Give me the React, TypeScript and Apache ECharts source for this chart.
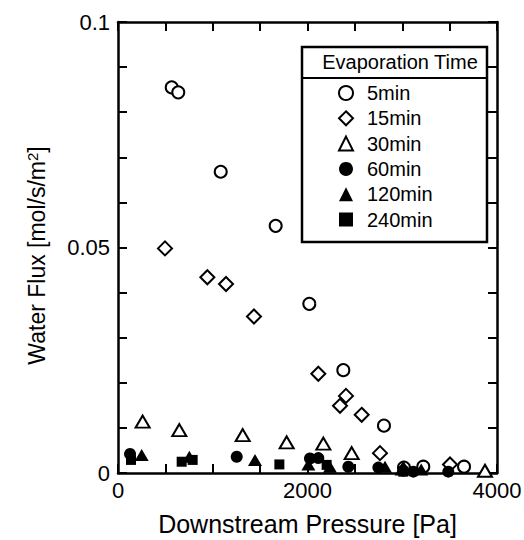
import React, { useEffect, useRef } from 'react';
import * as echarts from 'echarts';

const seriesNames = ['5min', '15min', '30min', '60min', '120min', '240min'];

const t5min = [[567, 0.0855], [636, 0.0844], [1084, 0.0668], [1664, 0.0548], [2019, 0.0375], [2378, 0.0228], [2807, 0.0105], [3018, 0.0012], [3222, 0.0014], [3652, 0.0014]];
const t15min = [[496, 0.0498], [943, 0.0434], [1140, 0.0419], [1435, 0.0347], [2114, 0.022], [2406, 0.0171], [2343, 0.0149], [2572, 0.0129], [2765, 0.0044], [3504, 0.0019]];
const t30min = [[260, 0.0114], [647, 0.0095], [1316, 0.0084], [1780, 0.0068], [2167, 0.0065], [2466, 0.0044], [3011, 0.001], [3873, 0.0005]];
const t60min = [[127, 0.0042], [1253, 0.0036], [2026, 0.0032], [2114, 0.0033], [2431, 0.0014], [2748, 0.0012], [3011, 0.0005], [3117, 0.0003], [3486, 0.0003]];
const t120min = [[250, 0.004], [753, 0.0036], [1446, 0.0029], [2009, 0.0019], [2237, 0.0014], [2818, 0.0014], [3200, 0.0008]];
const t240min = [[137, 0.0029], [672, 0.0025], [788, 0.0029], [1703, 0.0019], [2202, 0.0018], [3011, 0.0003]];

const seriesData = [t5min, t15min, t30min, t60min, t120min, t240min];

const xTickLabels = [0, 2000, 4000];
const yTickLabels = [0, 0.05, 0.1];

const FONT = '"Liberation Sans", Arial, Helvetica, sans-serif';

const markerStyles = [
  { symbol: 'circle', size: 12, fill: '#fff' },
  { symbol: 'diamond', size: 14, fill: '#fff' },
  { symbol: 'triangle', size: [14, 12], fill: '#fff' },
  { symbol: 'circle', size: 12, fill: '#000' },
  { symbol: 'triangle', size: [14, 12], fill: '#000' },
  { symbol: 'rect', size: 10, fill: '#000' },
];

const isTick = (list: number[], v: number) => list.some((t) => Math.abs(t - v) < 1e-9);

export default function App() {
  const ref = useRef<HTMLDivElement>(null);
  useEffect(() => {
    if (!ref.current) return;
    const chart = echarts.init(ref.current, undefined, { renderer: 'svg' });
    const axisLine = { show: true, onZero: false, lineStyle: { color: '#000', width: 2.5 } };
    const axisTick = { show: true, inside: true, length: 9, lineStyle: { color: '#000', width: 2 } };
    chart.setOption({
      animation: false,
      backgroundColor: '#fff',
      grid: { left: 118, right: 27, top: 22, bottom: 67, containLabel: false, outerBoundsMode: 'none' },
      xAxis: [
        {
          type: 'value', min: 0, max: 4000, interval: 500,
          axisLine, axisTick, splitLine: { show: false },
          axisLabel: {
            margin: 6, color: '#000', fontSize: 22, fontFamily: FONT,
            formatter: (v: number) => (isTick(xTickLabels, v) ? String(v) : ''),
          },
          name: 'Downstream Pressure [Pa]', nameLocation: 'middle', nameGap: 38,
          nameTextStyle: { color: '#000', fontSize: 25, fontFamily: FONT },
        },
        {
          type: 'value', min: 0, max: 4000, interval: 500, position: 'top',
          axisLine, axisTick, splitLine: { show: false }, axisLabel: { show: false },
        },
      ],
      yAxis: [
        {
          type: 'value', min: 0, max: 0.1, interval: 0.01,
          axisLine, axisTick, splitLine: { show: false },
          axisLabel: {
            margin: 8, color: '#000', fontSize: 22, fontFamily: FONT,
            formatter: (v: number) => (isTick(yTickLabels, v) ? String(Number(v.toFixed(4))) : ''),
          },
          name: 'Water Flux [mol/s/m{sup|2}]', nameLocation: 'middle', nameGap: 70, nameRotate: 90,
          nameTextStyle: {
            color: '#000', fontSize: 23, fontFamily: FONT, padding: [0, 16, 0, 0],
            rich: { sup: { fontSize: 15, fontFamily: FONT, color: '#000', verticalAlign: 'top', padding: [0, 0, 8, 0] } },
          },
        },
        {
          type: 'value', min: 0, max: 0.1, interval: 0.01, position: 'right',
          axisLine, axisTick, splitLine: { show: false }, axisLabel: { show: false },
        },
      ],
      legend: {
        orient: 'vertical', left: 338, top: 83, padding: 0,
        itemWidth: 14, itemHeight: 14, itemGap: 5.3,
        data: seriesNames,
        textStyle: { color: '#000', fontSize: 20, fontFamily: FONT, padding: [0, 0, 0, 9] },
      },
      graphic: [
        {
          type: 'rect', z: 0,
          shape: { x: 302, y: 47, width: 185, height: 195 },
          style: { fill: '#fff', stroke: '#000', lineWidth: 2.5 },
        },
        {
          type: 'line', z: 1,
          shape: { x1: 302, y1: 78, x2: 487, y2: 78 },
          style: { stroke: '#000', lineWidth: 2 },
        },
        {
          type: 'text', z: 1, x: 400, y: 62,
          style: { text: 'Evaporation Time', fill: '#000', fontSize: 20, fontFamily: FONT, textAlign: 'center', textVerticalAlign: 'middle' },
        },
      ],
      series: seriesNames.map((name, i) => ({
        name,
        type: 'scatter',
        data: seriesData[i],
        symbol: markerStyles[i].symbol,
        symbolSize: markerStyles[i].size,
        clip: false,
        z: 3 + i,
        itemStyle: {
          color: markerStyles[i].fill,
          borderColor: '#000',
          borderWidth: markerStyles[i].fill === '#fff' ? 2 : 0,
          opacity: 1,
        },
      })),
    });
    return () => chart.dispose();
  }, []);
  return <div ref={ref} style={{ position: 'absolute', left: 0, top: 0, width: 524, height: 540 }} />;
}
